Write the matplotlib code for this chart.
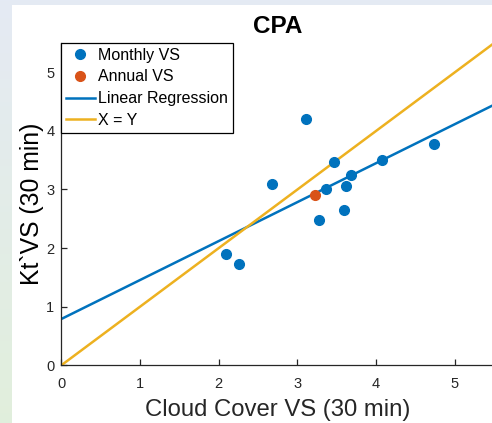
import numpy as np
import matplotlib
matplotlib.use("Agg")
import matplotlib.pyplot as plt
from matplotlib.patches import Rectangle

# Monthly variability scores (cloud cover vs. clearness index)
monthly_cloud = [3.11, 3.46, 2.68, 3.68, 3.36, 3.62, 3.59, 3.27, 2.09, 2.26, 4.07, 4.74]
monthly_kt = [4.20, 3.47, 3.09, 3.24, 3.00, 3.06, 2.65, 2.48, 1.90, 1.73, 3.50, 3.77]

# Annual variability score
annual_cloud = [3.22]
annual_kt = [2.90]

# Linear regression coefficients
reg_intercept = 0.79
reg_slope = 0.665

x_ticks = [0, 1, 2, 3, 4, 5]
y_ticks = [0, 1, 2, 3, 4, 5]

BLUE = "#0072BD"
ORANGE = "#D95319"
YELLOW = "#EDB120"
INK = "#262626"

plt.rcParams["font.family"] = ["Liberation Sans", "DejaVu Sans"]

fig = plt.figure(figsize=(4.92, 4.23), dpi=100)

# slide background: soft blue-to-green gradient with a white panel on top
bg = fig.add_axes([0, 0, 1, 1], zorder=-10)
grad = np.linspace(0, 1, 256)[:, None]
top = np.array([0.898, 0.918, 0.957])
bottom = np.array([0.882, 0.937, 0.863])
img = top[None, None, :] * (1 - grad[..., None]) + bottom[None, None, :] * grad[..., None]
img = np.repeat(img, 4, axis=1)
bg.imshow(img, aspect="auto", extent=[0, 1, 0, 1], origin="upper")
bg.add_patch(Rectangle((12 / 492, 0), 1, 1 - 5 / 423, facecolor="white", edgecolor="none"))
bg.set_xlim(0, 1)
bg.set_ylim(0, 1)
bg.axis("off")

ax = fig.add_axes([61.3 / 492, (423 - 365.3) / 423, 432.9 / 492, 322.3 / 423])
ax.set_facecolor("none")

ax.plot(monthly_cloud, monthly_kt, "o", color=BLUE, markersize=7, label="Monthly VS", zorder=3)
ax.plot(annual_cloud, annual_kt, "o", color=ORANGE, markersize=7, label="Annual VS", zorder=4)

xs = np.array([0, 5.5])
ax.plot(xs, reg_intercept + reg_slope * xs, color=BLUE, lw=1.8, label="Linear Regression", zorder=2)
ax.plot(xs, xs, color=YELLOW, lw=1.8, label="X = Y", zorder=2)

ax.set_xlim(0, 5.5)
ax.set_ylim(0, 5.5)
ax.set_xticks(x_ticks)
ax.set_yticks(y_ticks)
ax.spines["top"].set_visible(False)
ax.spines["right"].set_visible(False)
for s in ("left", "bottom"):
    ax.spines[s].set_color(INK)
    ax.spines[s].set_linewidth(0.9)
ax.tick_params(direction="in", length=4, width=0.9, colors=INK, labelsize=10.5)
ax.tick_params(axis="x", pad=8.5)
ax.tick_params(axis="y", pad=5)

ax.set_title("CPA", fontsize=17.5, fontweight="bold", pad=7)
ax.set_xlabel("Cloud Cover VS (30 min)", fontsize=17.2, color=INK, labelpad=6)
ax.set_ylabel("Kt`VS (30 min)", fontsize=17.8, color="black", labelpad=1.5)

leg = ax.legend(loc="upper left", bbox_to_anchor=(0, 1), borderaxespad=0, fontsize=11.5,
                frameon=True, fancybox=False, edgecolor="black", framealpha=1,
                handlelength=1.8, handletextpad=0.2, labelspacing=0.42, borderpad=0.3)
leg.get_frame().set_linewidth(0.9)

fig.savefig("out.png", dpi=100)
